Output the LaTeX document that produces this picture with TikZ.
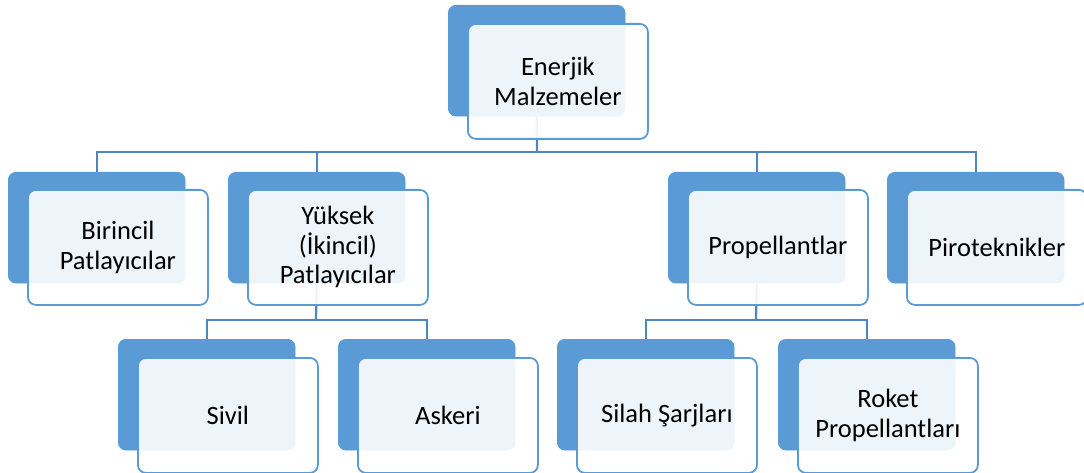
\documentclass[tikz,border=0pt]{standalone}
\usepackage{fontspec}
\setmainfont{Carlito}
\definecolor{boxblue}{HTML}{5B9BD5}
\definecolor{lineblue}{HTML}{4F86C0}
\begin{document}
\begin{tikzpicture}[x=1pt,y=-1pt,
  backbox/.style={draw=none,fill=boxblue,rounded corners=8pt,minimum width=177pt,minimum height=111pt,anchor=north west,inner sep=0pt},
  frontbox/.style={draw=boxblue,line width=1.8pt,fill=white,fill opacity=0.9,text opacity=1,rounded corners=8pt,minimum width=180pt,minimum height=115pt,anchor=north west,inner sep=2pt,align=center,font=\fontsize{26.5}{29.5}\selectfont},
  conn/.style={draw=lineblue,line width=2.2pt}]
\useasboundingbox (0,0) rectangle (1084,473);
% bus coordinates
\coordinate (bus1) at (537,152);
\coordinate (bus2) at (316,320);
\coordinate (bus3) at (756,320);
% back boxes
\node[backbox] (eb) at (448,5) {};
\node[backbox] (bb) at (8,172) {};
\node[backbox] (yb) at (228,172) {};
\node[backbox] (pb) at (668,172) {};
\node[backbox] (tb) at (887,172) {};
\node[backbox] (sb) at (118,339) {};
\node[backbox] (ab) at (338,339) {};
\node[backbox] (qb) at (557,339) {};
\node[backbox] (rb) at (778,339) {};
% connectors
\draw[conn] (eb.south) -- (bus1);
\draw[conn] (bb.north) -- (bb.north |- bus1) -- (tb.north |- bus1) -- (tb.north);
\draw[conn] (yb.north) -- (yb.north |- bus1);
\draw[conn] (pb.north) -- (pb.north |- bus1);
\draw[conn] (yb.south) -- (bus2);
\draw[conn] (sb.north) -- (sb.north |- bus2) -- (ab.north |- bus2) -- (ab.north);
\draw[conn] (pb.south) -- (bus3);
\draw[conn] (qb.north) -- (qb.north |- bus3) -- (rb.north |- bus3) -- (rb.north);
% redraw back boxes over connector ends
\foreach \n in {eb,bb,yb,pb,tb,sb,ab,qb,rb}{\fill[boxblue,rounded corners=8pt] (\n.north west) rectangle (\n.south east);}
% front boxes
\node[frontbox] (e) at (467,23) {Enerjik\\Malzemeler};
\node[frontbox] (b) at (27,189) {Birincil\\Patlayıcılar};
\node[frontbox] (y) at (247,189) {Yüksek\\(İkincil)\\Patlayıcılar};
\node[frontbox] (p) at (687,189) {Propellantlar};
\node[frontbox] (t) at (906,189) {Piroteknikler};
\node[frontbox] (s) at (137,357) {Sivil};
\node[frontbox] (a) at (357,357) {Askeri};
\node[frontbox] (q) at (576,357) {Silah Şarjları};
\node[frontbox] (r) at (797,357) {Roket\\Propellantları};
\end{tikzpicture}
\end{document}
